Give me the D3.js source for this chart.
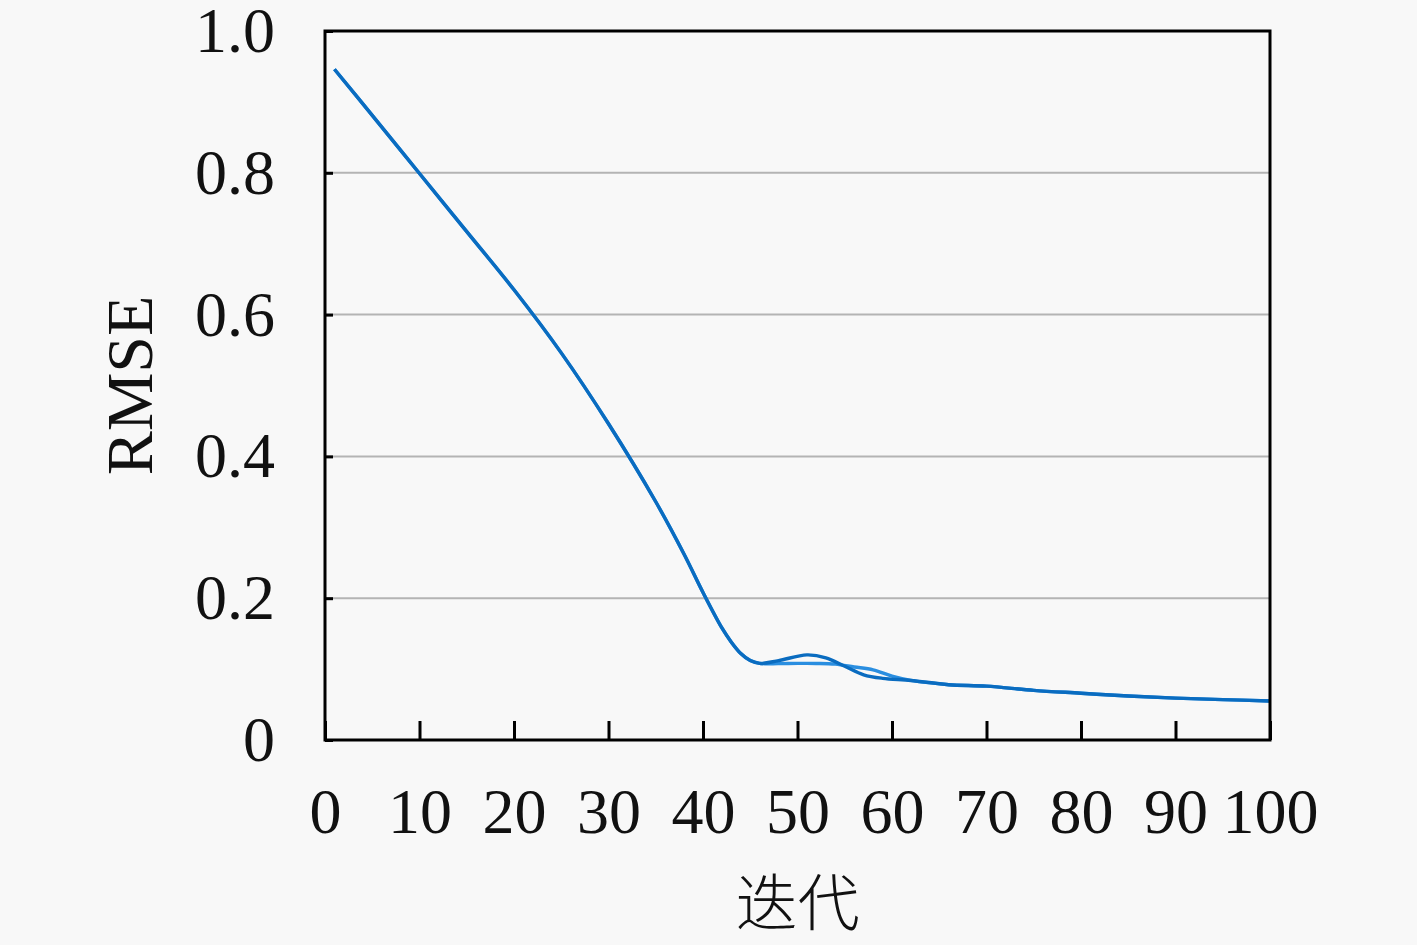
<!DOCTYPE html>
<html>
<head>
<meta charset="utf-8">
<script src="https://cdn.jsdelivr.net/npm/d3@7"></script>
<style>
  html, body { margin: 0; padding: 0; background: #f8f8f8; }
  svg { display: block; }
</style>
</head>
<body>
<svg id="chart" width="1417" height="945"></svg>
<script>
// iterations
const iterA = [1, 5, 10, 15, 20, 25, 30, 35, 38, 40, 42, 43, 44, 45, 46, 48, 51, 53, 55, 57, 59, 62, 66, 70, 75, 80, 85, 90, 95, 100];
const rmseA = [0.946, 0.881, 0.799, 0.717, 0.635, 0.546, 0.446, 0.336, 0.262, 0.208, 0.158, 0.138, 0.122, 0.112, 0.108, 0.112, 0.120, 0.116, 0.104, 0.092, 0.087, 0.084, 0.078, 0.076, 0.070, 0.066, 0.062, 0.059, 0.057, 0.055];

const iterB = [1, 5, 10, 15, 20, 25, 30, 35, 38, 40, 42, 43, 44, 45, 46, 49, 52, 54, 56, 58, 60, 62, 66, 70, 75, 80, 85, 90, 95, 100];
const rmseB = [0.946, 0.881, 0.799, 0.717, 0.635, 0.546, 0.446, 0.336, 0.262, 0.208, 0.158, 0.138, 0.122, 0.112, 0.108, 0.108, 0.108, 0.107, 0.103, 0.099, 0.090, 0.084, 0.078, 0.076, 0.070, 0.066, 0.062, 0.059, 0.057, 0.055];

const xTicks = [0, 10, 20, 30, 40, 50, 60, 70, 80, 90, 100];
const yTicks = [0, 0.2, 0.4, 0.6, 0.8, 1.0];
const yTickLabels = ["0", "0.2", "0.4", "0.6", "0.8", "1.0"];

const svg = d3.select("#chart");
const margin = { top: 31, right: 147, bottom: 205, left: 325 };
const width = 1417, height = 945;
const serif = "'Liberation Serif', 'DejaVu Serif', serif";

const x = d3.scaleLinear().domain([0, 100]).range([margin.left, width - margin.right]);
const y = d3.scaleLinear().domain([0, 1]).range([height - margin.bottom, margin.top]);

// gridlines
svg.append("g")
    .selectAll("line")
    .data(yTicks.filter(d => d > 0 && d < 1))
    .join("line")
    .attr("x1", x(0)).attr("x2", x(100))
    .attr("y1", d => y(d)).attr("y2", d => y(d))
    .attr("stroke", "#b4b4b4")
    .attr("stroke-width", 2);

// lines
const line = (xs) => d3.line()
    .x((d, i) => x(xs[i]))
    .y(d => y(d))
    .curve(d3.curveCatmullRom.alpha(0.5));

svg.append("path")
    .datum(rmseB)
    .attr("fill", "none")
    .attr("stroke", "#2a8ee0")
    .attr("stroke-width", 3.4)
    .attr("d", line(iterB));

svg.append("path")
    .datum(rmseA)
    .attr("fill", "none")
    .attr("stroke", "#0a6cc0")
    .attr("stroke-width", 3.4)
    .attr("d", line(iterA));

// x axis (ticks inward)
const xAxis = svg.append("g")
    .attr("transform", `translate(0,${y(0)})`)
    .call(d3.axisBottom(x).tickValues(xTicks).tickSizeInner(-19).tickSizeOuter(0).tickPadding(48).tickFormat(d3.format("d")));
xAxis.select(".domain").remove();
xAxis.selectAll("line").attr("stroke", "#000").attr("stroke-width", 3);
xAxis.selectAll("text")
    .attr("font-family", serif)
    .attr("font-size", 64)
    .attr("fill", "#111");

// y axis (ticks inward)
const yAxis = svg.append("g")
    .attr("transform", `translate(${x(0)},0)`)
    .call(d3.axisLeft(y).tickValues(yTicks).tickSizeInner(-8).tickSizeOuter(0).tickPadding(50)
        .tickFormat((d, i) => yTickLabels[i]));
yAxis.select(".domain").remove();
yAxis.selectAll("line").attr("stroke", "#000").attr("stroke-width", 3);
yAxis.selectAll("text")
    .attr("font-family", serif)
    .attr("font-size", 64)
    .attr("fill", "#111");

// frame
svg.append("rect")
    .attr("x", x(0)).attr("y", y(1))
    .attr("width", x(100) - x(0))
    .attr("height", y(0) - y(1))
    .attr("fill", "none")
    .attr("stroke", "#000")
    .attr("stroke-width", 3);

// axis titles
svg.append("text")
    .attr("x", (x(0) + x(100)) / 2)
    .attr("y", 926)
    .attr("text-anchor", "middle")
    .attr("font-family", "'Noto Sans CJK SC', sans-serif")
    .attr("font-size", 62)
    .attr("font-weight", 300)
    .attr("fill", "#111")
    .text("迭代");

svg.append("text")
    .attr("transform", `translate(152,${(y(0) + y(1)) / 2}) rotate(-90)`)
    .attr("text-anchor", "middle")
    .attr("font-family", serif)
    .attr("font-size", 66)
    .attr("fill", "#111")
    .text("RMSE");
</script>
</body>
</html>
